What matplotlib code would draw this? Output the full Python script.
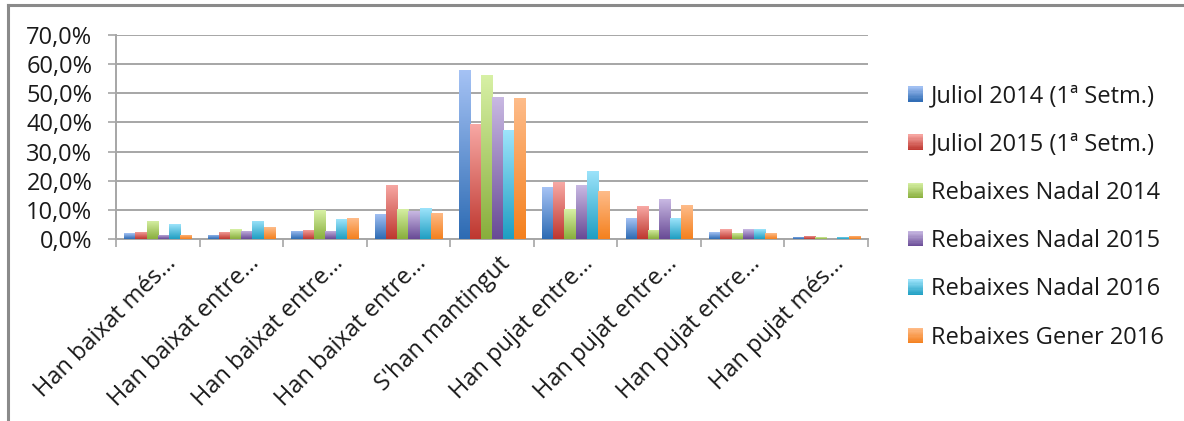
import numpy as np
import matplotlib
matplotlib.use("Agg")
import matplotlib.pyplot as plt
from matplotlib.colors import LinearSegmentedColormap
from matplotlib.patches import Patch, Rectangle
from matplotlib.lines import Line2D
from matplotlib.ticker import FuncFormatter, FixedLocator
from matplotlib.legend_handler import HandlerBase
import matplotlib.transforms as mtransforms

categories = ["Han baixat més\u2026", "Han baixat entre\u2026", "Han baixat entre\u2026",
              "Han baixat entre\u2026", "S'han mantingut", "Han pujat entre\u2026",
              "Han pujat entre\u2026", "Han pujat entre\u2026", "Han pujat més\u2026"]
series_names = ["Juliol 2014 (1ª Setm.)", "Juliol 2015 (1ª Setm.)", "Rebaixes Nadal 2014",
                "Rebaixes Nadal 2015", "Rebaixes Nadal 2016", "Rebaixes Gener 2016"]
juliol_2014 = [2.0, 1.5, 2.9, 8.6, 58.0, 17.8, 7.2, 2.4, 0.7]
juliol_2015 = [2.5, 2.5, 3.2, 18.6, 39.5, 19.4, 11.2, 3.3, 1.1]
nadal_2014 = [6.3, 3.3, 9.8, 10.3, 56.3, 10.2, 3.2, 2.2, 0.6]
nadal_2015 = [1.4, 2.9, 2.9, 9.5, 48.7, 18.5, 13.7, 3.3, 0.1]
nadal_2016 = [5.0, 6.3, 6.7, 10.6, 37.4, 23.4, 7.2, 3.3, 0.7]
gener_2016 = [1.5, 4.1, 7.2, 9.0, 48.3, 16.4, 11.6, 2.0, 1.1]
y_ticks = [0, 10, 20, 30, 40, 50, 60, 70]

series = [juliol_2014, juliol_2015, nadal_2014, nadal_2015, nadal_2016, gener_2016]
grad = [("#A6C3F5", "#2D6BB3"), ("#F8A9A5", "#BE372F"), ("#D8F1A6", "#88AE3C"),
        ("#C9B9E3", "#684A95"), ("#9EE4FB", "#1E9EC2"), ("#FEBC8A", "#F4801D")]
mid = ["#6A97D6", "#DC6F6A", "#B2D070", "#987FBE", "#5DC2DF", "#F99E55"]
cmaps = [LinearSegmentedColormap.from_list("g%d" % i, [grad[i][1], grad[i][0]])
         for i in range(6)]

plt.rcParams['font.family'] = ['Open Sans', 'DejaVu Sans']
FS = 17
TXT = "#1A1A1A"


class GradHandler(HandlerBase):
    def __init__(self, cmap, nstrip=12):
        super().__init__()
        self.cmap = cmap
        self.nstrip = nstrip

    def create_artists(self, legend, orig_handle, xdescent, ydescent, width, height,
                       fontsize, trans):
        arts = []
        h = height / self.nstrip
        for k in range(self.nstrip):
            c = self.cmap((k + 0.5) / self.nstrip)
            r = Rectangle((-xdescent, -ydescent + k * h), width, h * 1.05,
                          facecolor=c, edgecolor='none', transform=trans)
            arts.append(r)
        return arts


fig = plt.figure(figsize=(11.84, 4.21), dpi=100)
ax = fig.add_axes([116/1184, 1-239/421, (868-116)/1184, (239-35)/421])

n = len(categories)
x = np.arange(n)
w = 0.8 / 6
gimg = np.linspace(1, 0, 256).reshape(-1, 1)
for i, vals in enumerate(series):
    offs = (i - 2.5) * w
    bars = ax.bar(x + offs, vals, width=w, color=mid[i], zorder=2, linewidth=0)
    for b in bars:
        bx, by = b.get_x(), b.get_y()
        bw, bh = b.get_width(), b.get_height()
        if bh <= 0:
            continue
        im = ax.imshow(gimg, extent=[bx, bx + bw, by, by + bh], aspect='auto',
                       cmap=cmaps[i], vmin=0, vmax=1, zorder=3, interpolation='bilinear')
        im.set_clip_path(b)

ax.set_xlim(-0.5, n - 0.5)
ax.set_ylim(0, 70)
ax.set_yticks(y_ticks)
ax.yaxis.set_major_formatter(FuncFormatter(lambda v, p: ("%.1f%%" % v).replace(".", ",")))
ax.grid(axis='y', color="#A6A6A6", linewidth=1.4, zorder=1)
ax.set_axisbelow(True)
for s in ['top', 'right']:
    ax.spines[s].set_visible(False)
for s in ['left', 'bottom']:
    ax.spines[s].set_color("#A6A6A6")
    ax.spines[s].set_linewidth(1.4)
ax.tick_params(axis='y', length=6, width=1.2, color="#A6A6A6", pad=11,
               labelsize=FS, labelcolor=TXT)
ax.set_xticks(np.arange(n + 1) - 0.5)
ax.set_xticklabels([])
ax.tick_params(axis='x', which='major', length=5.5, width=1.2, color="#A6A6A6")
ax.xaxis.set_minor_locator(FixedLocator(x))
ax.set_xticks(x, minor=True)
ax.set_xticklabels(categories, minor=True, rotation=45, ha='right', va='top',
                   rotation_mode='anchor', fontsize=FS, color=TXT)
ax.tick_params(axis='x', which='minor', length=0, pad=9)
off = mtransforms.ScaledTranslation(6/100, 0, fig.dpi_scale_trans)
for lab in ax.get_xticklabels(minor=True):
    lab.set_transform(lab.get_transform() + off)

handles = [Patch(facecolor=mid[i], edgecolor='none') for i in range(6)]
handler_map = {handles[i]: GradHandler(cmaps[i]) for i in range(6)}
leg = fig.legend(handles, series_names, loc='center left',
                 bbox_to_anchor=(908/1184, 1-217/421), frameon=False, fontsize=FS,
                 handlelength=0.62, handleheight=0.62, handletextpad=0.35,
                 labelspacing=1.03, borderaxespad=0, borderpad=0,
                 handler_map=handler_map)
for t in leg.get_texts():
    t.set_color(TXT)

bc = "#8A8A8A"
fig.add_artist(Line2D([8/1184, 1], [1-5/421, 1-5/421], color=bc, linewidth=2.2,
                      transform=fig.transFigure))
fig.add_artist(Line2D([8/1184, 8/1184], [0, 1-5/421], color=bc, linewidth=2.2,
                      transform=fig.transFigure))

fig.savefig("out.png", dpi=100)
